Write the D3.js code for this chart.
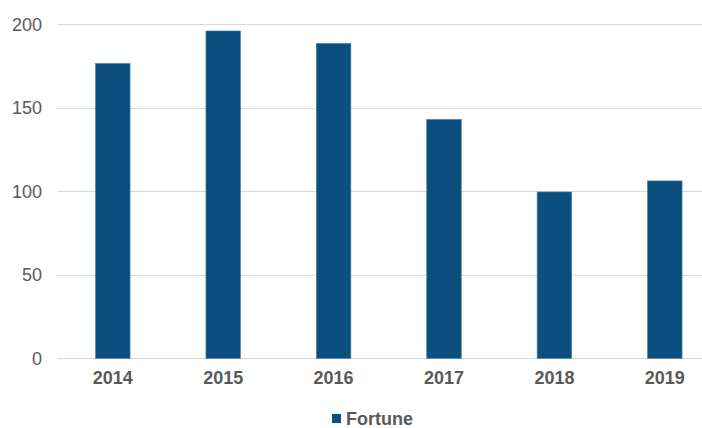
<!DOCTYPE html>
<html>
<head>
<meta charset="utf-8">
<script src="https://cdn.jsdelivr.net/npm/d3@7/dist/d3.min.js"></script>
<style>
  html, body { margin: 0; padding: 0; background: #fff; }
  svg { display: block; font-family: "Liberation Sans", Arial, sans-serif; }
</style>
</head>
<body>
<div id="chart"></div>
<script>
// Chart data
const years = ['2014', '2015', '2016', '2017', '2018', '2019'];
const fortune = [176.5, 196, 188.5, 143, 99.6, 106.2];
const yTicks = [0, 50, 100, 150, 200];
const seriesName = 'Fortune';

const width = 702;
const height = 428;
const barColor = '#0b4f7e';
const textColor = '#595959';

const svg = d3.select('#chart').append('svg')
  .attr('width', width)
  .attr('height', height);

// Scales
const xScale = d3.scaleBand()
  .domain(years)
  .range([57.6, 720])
  .padding(0);

const yScale = d3.scaleLinear()
  .domain([0, 200])
  .range([358.3, 24.3]);

const barWidth = xScale.bandwidth() * 0.3125;

// Gridlines
svg.append('g')
  .selectAll('line')
  .data(yTicks)
  .enter()
  .append('line')
  .attr('x1', 57)
  .attr('x2', 720)
  .attr('y1', d => Math.round(yScale(d)) + 0.5)
  .attr('y2', d => Math.round(yScale(d)) + 0.5)
  .attr('stroke', '#d9d9d9')
  .attr('stroke-width', 1);

// Y axis labels
const yAxis = d3.axisLeft(yScale)
  .tickValues(yTicks)
  .tickSize(0)
  .tickPadding(0);

svg.append('g')
  .attr('transform', 'translate(42, 0)')
  .call(yAxis)
  .call(g => g.select('.domain').remove())
  .selectAll('text')
  .attr('font-size', 18)
  .attr('font-family', '"Liberation Sans", Arial, sans-serif')
  .attr('fill', textColor);

// Bars
svg.append('g')
  .selectAll('rect')
  .data(years.map((y, i) => ({ year: y, value: fortune[i] })))
  .enter()
  .append('rect')
  .attr('x', d => xScale(d.year) + (xScale.bandwidth() - barWidth) / 2)
  .attr('y', d => yScale(d.value))
  .attr('width', barWidth)
  .attr('height', d => yScale(0) - yScale(d.value))
  .attr('fill', barColor)
  .attr('stroke', '#3f77a3')
  .attr('stroke-width', 0.6);

// X axis labels
const xAxis = d3.axisBottom(xScale)
  .tickSize(0)
  .tickPadding(0);

svg.append('g')
  .attr('transform', 'translate(0, 371)')
  .call(xAxis)
  .call(g => g.select('.domain').remove())
  .selectAll('text')
  .attr('font-size', 18)
  .attr('font-weight', 'bold')
  .attr('font-family', '"Liberation Sans", Arial, sans-serif')
  .attr('fill', textColor);

// Legend
const legend = svg.append('g')
  .attr('transform', 'translate(332, 414)');

legend.append('rect')
  .attr('width', 9)
  .attr('height', 9)
  .attr('fill', barColor);

legend.append('text')
  .attr('x', 14)
  .attr('y', 10.5)
  .attr('font-size', 18)
  .attr('font-weight', 'bold')
  .attr('fill', textColor)
  .text(seriesName);
</script>
</body>
</html>
